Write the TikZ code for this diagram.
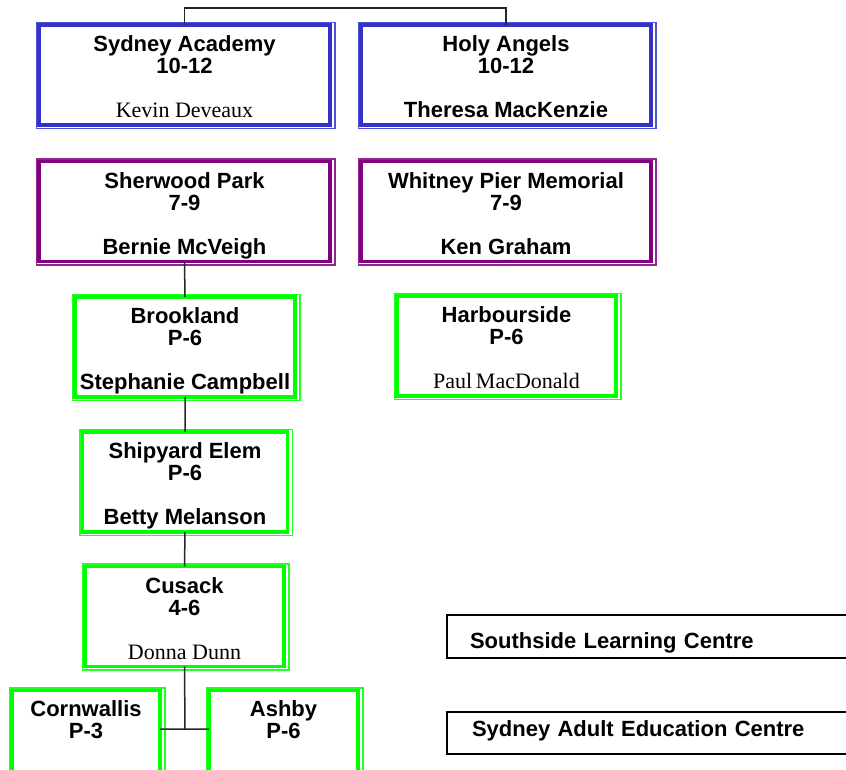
\documentclass[tikz,border=0pt]{standalone}
\usepackage{fontspec}
\setmainfont{Liberation Sans}
\newfontfamily\staffserif{Liberation Serif}
\usepackage{tikz}
\usetikzlibrary{positioning,calc}
\definecolor{srblue}{RGB}{51,51,204}
\definecolor{jrpurple}{RGB}{128,0,128}
\definecolor{elgreen}{RGB}{0,255,0}
\newcommand{\staff}[1]{{\staffserif\mdseries #1}}
\tikzset{school/.style={rectangle, draw=#1, line width=3.2pt, inner sep=0pt, outer sep=0pt,
            text height=93pt, text depth=7pt, align=center,
            font=\fontsize{22pt}{22pt}\selectfont\bfseries,
            append after command={\pgfextra{\draw[#1!85, line width=1.1pt]
              ([shift={(-2.5pt,2.5pt)}]\tikzlastnode.north west) rectangle
              ([shift={(5pt,-3.5pt)}]\tikzlastnode.south east);}}},
         centre/.style={rectangle, draw=black, line width=2.2pt, inner ysep=0pt, outer sep=0pt,
            align=left, font=\fontsize{22pt}{22pt}\selectfont\bfseries},
         link/.style={draw=black!85, line width=1.5pt}
}

\begin{document}
\begin{tikzpicture}[x=1pt,y=1pt]
    \useasboundingbox (0,0) rectangle (846,769);
    \clip (0,0) rectangle (846,769);
            %      SA        HA
            %      SP        WP
            %      BK        HB
            %      SE
            %      CU             SL
            %   CW    AS          SAE
        \node[school=srblue, minimum width=291pt] (SA) at (184.5,694) {Sydney Academy\\10-12\\[22pt]\staff{Kevin Deveaux}};
        \node[school=srblue, minimum width=290pt] (HA) at (506,694) {Holy Angels\\10-12\\[22pt]Theresa MacKenzie};
        \node[school=jrpurple, minimum width=291pt] (SP) at (184.5,557.5) {Sherwood Park\\7-9\\[22pt]Bernie McVeigh};
        \node[school=jrpurple, minimum width=290pt] (WP) at (506,557.5) {Whitney Pier Memorial\\7-9\\[22pt]Ken Graham};
        \node[school=elgreen, minimum width=220pt] (BK) at (185,422) {Brookland\\P-6\\[22pt]Stephanie Campbell};
        \node[school=elgreen, minimum width=219pt] (HB) at (506.5,423) {Harbourside\\P-6\\[22pt]\staff{Paul\,MacDonald}};
        \node[school=elgreen, minimum width=205pt] (SE) at (185,287) {Shipyard Elem\\P-6\\[22pt]Betty Melanson};
        \node[school=elgreen, minimum width=199pt] (CU) at (184.5,152.5) {Cusack\\4-6\\[22pt]\staff{Donna Dunn}};
        \node[school=elgreen, minimum width=148pt, text height=47.5pt, text depth=52.5pt] (CW) at (86,28.5) {Cornwallis\\P-3};
        \node[school=elgreen, minimum width=149pt, text height=47.5pt, text depth=52.5pt] (AS) at (283.5,28.5) {Ashby\\P-6};
        \node[centre, inner xsep=23pt, text width=367pt, text height=33pt, text depth=10pt] (SL) at (653.5,132.5) {Southside Learning Centre};
        \node[centre, inner xsep=25pt, text width=363pt, text height=24pt, text depth=18pt] (SAE) at (653.5,36) {Sydney Adult Education Centre};
        \coordinate (top) at (346,761);
        \coordinate (fork) at (185,40);
        \path[link] (SA.north) |- (top) -| (HA.north);
        \path[link] (SP.south) -- (BK.north)
                    (WP.south) -- (HB.north |- WP.south)
                    (BK.south) -- (SE.north)
                    (SE.south) -- (CU.north)
                    (CU.south) -- (fork)
                    (CW.east |- fork) -- (AS.west |- fork);
\end{tikzpicture}
\end{document}
